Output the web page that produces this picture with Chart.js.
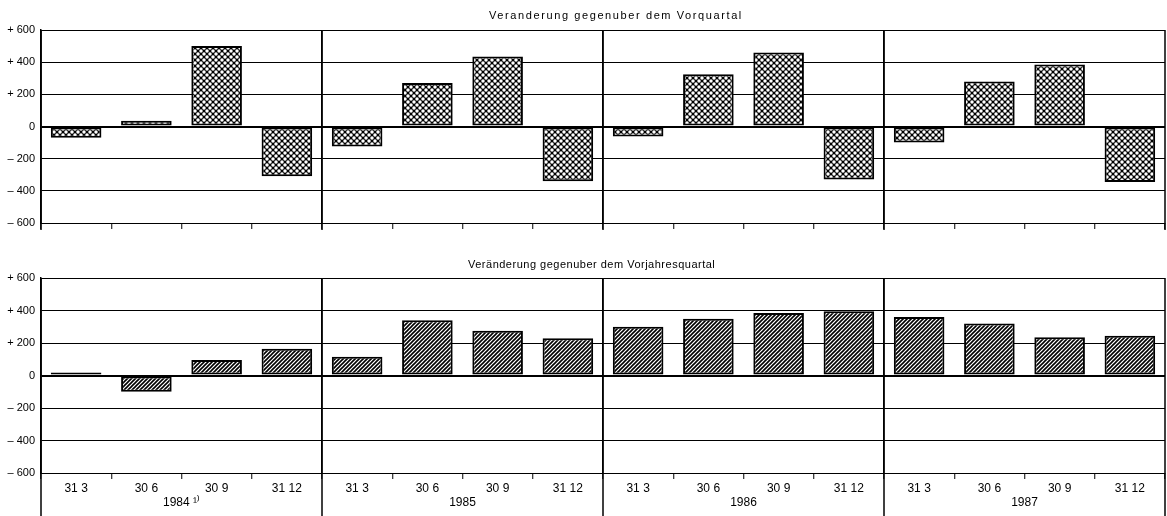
<!DOCTYPE html>
<html><head><meta charset="utf-8">
<script src="https://cdn.jsdelivr.net/npm/chart.js@4"></script>
<style>
html,body{margin:0;padding:0;background:#fff;}
#wrap{position:relative;width:1167px;height:516px;overflow:hidden;font-family:"Liberation Sans",Arial,sans-serif;background:#fff;}
.box{position:absolute;left:0;width:1167px;}
#b1{top:0;height:250px;}
#b2{top:250px;height:266px;}
.title{position:absolute;font-size:11px;color:#000;white-space:nowrap;line-height:13px;}
#t1{top:9px;left:489px;letter-spacing:1.6px;}
#t2{top:258px;left:468px;letter-spacing:0.5px;}
</style></head>
<body>
<div id="wrap">
  <div class="box" id="b1"><canvas id="c1" width="1167" height="250"></canvas></div>
  <div class="box" id="b2"><canvas id="c2" width="1167" height="266"></canvas></div>
  <div class="title" id="t1">Veranderung gegenuber dem Vorquartal</div>
  <div class="title" id="t2">Veränderung gegenuber dem Vorjahresquartal</div>
</div>
<script>
// ---- data ----
const quarters = ['31 3', '30 6', '30 9', '31 12'];
const years = ['1984 \u00B9\u207E', '1985', '1986', '1987'];
const yTickValues = [-600, -400, -200, 0, 200, 400, 600];
const yTickLabels = ['\u2013 600', '\u2013 400', '\u2013 200', '0', '+ 200', '+ 400', '+ 600'];
// change vs previous quarter (Veränderung gegenüber dem Vorquartal)
const vorquartal = [-70, 35, 500, -310,  -125, 270, 435, -340,  -62, 325, 460, -330,  -100, 280, 385, -345];
// change vs same quarter of previous year (Veränderung gegenüber dem Vorjahresquartal)
const vorjahresquartal = [18, -100, 95, 165,  115, 340, 275, 230,  300, 350, 385, 395,  360, 320, 235, 245];

const categories = [];
years.forEach(() => quarters.forEach(q => categories.push(q)));

Chart.defaults.font.family = '"Liberation Sans", Arial, sans-serif';
Chart.defaults.color = '#000';

function crossPattern(){
  const s = 6;
  const c = document.createElement('canvas'); c.width = s; c.height = s;
  const g = c.getContext('2d');
  g.fillStyle = '#000'; g.fillRect(0,0,s,s);
  g.fillStyle = '#fff';
  [[0,0],[s,0],[0,s],[s,s],[s/2,s/2]].forEach(([x,y]) => { g.beginPath(); g.arc(x,y,1.75,0,Math.PI*2); g.fill(); });
  return g.createPattern(c,'repeat');
}
function hatchPattern(){
  const c = document.createElement('canvas'); c.width = 4; c.height = 4;
  const g = c.getContext('2d');
  g.fillStyle = '#fff'; g.fillRect(0,0,4,4);
  g.strokeStyle = '#000'; g.lineWidth = 1.6;
  g.beginPath();
  g.moveTo(-1,5); g.lineTo(5,-1);
  g.moveTo(-1,1); g.lineTo(1,-1);
  g.moveTo(3,5); g.lineTo(5,3);
  g.stroke();
  return g.createPattern(c,'repeat');
}

const yearLines = {
  id: 'yearLines',
  afterDraw(chart, args, opts){
    const {ctx, chartArea, scales} = chart;
    const x = scales.x;
    const half = (x.getPixelForValue(1) - x.getPixelForValue(0)) / 2;
    const bottom = opts.toCanvasBottom ? chart.height : chartArea.bottom + opts.ext;
    ctx.save();
    ctx.strokeStyle = '#000';
    ctx.lineWidth = 1.5;
    for (let k = 0; k <= years.length; k++){
      const px = x.getPixelForValue(k * quarters.length) - half;
      ctx.beginPath(); ctx.moveTo(px, chartArea.top); ctx.lineTo(px, bottom); ctx.stroke();
    }
    ctx.restore();
  }
};

function yScale(){
  return {
    min: -600, max: 600,
    afterFit: s => { s.width = 41; },
    afterBuildTicks: s => { s.ticks = yTickValues.map(v => ({value: v})); },
    ticks: {
      padding: 6,
      font: {size: 11},
      color: '#000',
      callback: v => yTickLabels[yTickValues.indexOf(v)]
    },
    grid: {
      color: '#000',
      lineWidth: c => (c.tick && c.tick.value === 0) ? 2 : 1,
      drawTicks: false
    },
    border: {display: true, color: '#000', width: 1.5}
  };
}

function xGrid(){
  return {
    offset: true,
    color: c => (c.index !== undefined && c.index % 4 === 0) ? '#000' : 'rgba(0,0,0,0)',
    lineWidth: 1.5,
    drawTicks: true,
    tickLength: 6,
    tickColor: '#000',
    tickWidth: 1
  };
}

function makeChart(id, values, pattern, bottom){
  const scales = {
    x: {
      type: 'category',
      labels: categories,
      offset: true,
      weight: 0,
      grid: xGrid(),
      border: {display: true, color: '#000', width: 1},
      ticks: bottom ? {display: true, autoSkip: false, maxRotation: 0, padding: 2, font: {size: 12}, color: '#000'} : {display: false},
      afterFit: s => { s.height = bottom ? 22 : 27; }
    },
    y: yScale()
  };
  if (bottom){
    scales.xYear = {
      type: 'category',
      position: 'bottom',
      labels: years,
      offset: true,
      weight: 1,
      grid: {display: false, drawTicks: false},
      border: {display: false},
      ticks: {autoSkip: false, maxRotation: 0, padding: 0, font: {size: 12}, color: '#000'},
      afterFit: s => { s.height = 21; }
    };
  }
  return new Chart(document.getElementById(id), {
    type: 'bar',
    data: {
      labels: categories,
      datasets: [{
        data: values,
        backgroundColor: pattern,
        borderColor: '#000',
        borderWidth: 2,
        borderSkipped: false,
        barPercentage: 0.72,
        categoryPercentage: 1.0
      }]
    },
    options: {
      responsive: false,
      animation: false,
      devicePixelRatio: 1,
      layout: {padding: {top: bottom ? 28 : 30, right: 2, left: 0, bottom: 0}},
      plugins: {
        legend: {display: false},
        tooltip: {enabled: false},
        title: {display: false},
        yearLines: bottom ? {toCanvasBottom: true} : {ext: 7}
      },
      scales
    },
    plugins: [yearLines]
  });
}

makeChart('c1', vorquartal, crossPattern(), false);
makeChart('c2', vorjahresquartal, hatchPattern(), true);
</script>
</body></html>
